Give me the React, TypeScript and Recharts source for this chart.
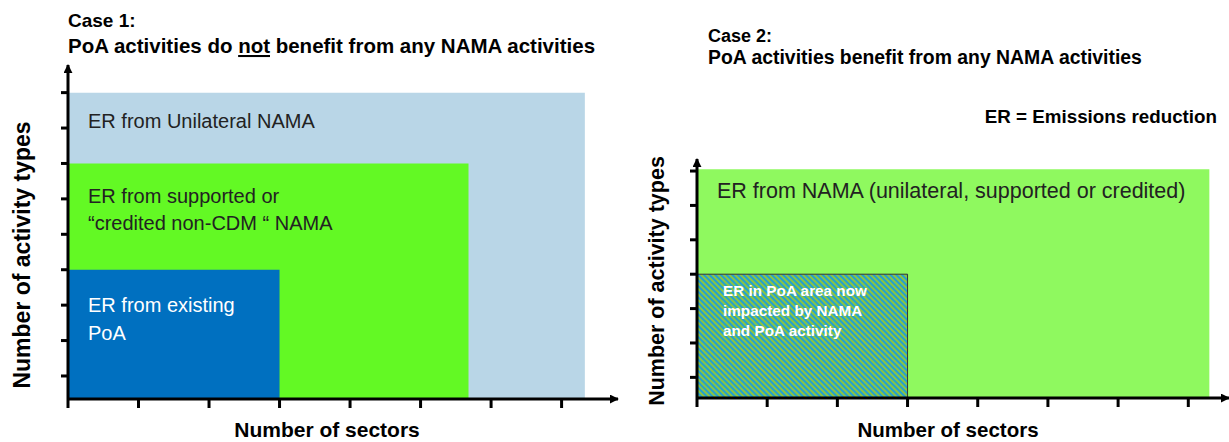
import React from 'react';
import { ComposedChart, XAxis, YAxis, ReferenceArea } from 'recharts';

// Case 1 – nested areas (sectors x activity types)
const caseOneAreas = [
  ['ER from Unilateral NAMA'],
  ['ER from supported or', '\u201Ccredited non-CDM \u201C NAMA'],
  ['ER from existing', 'PoA'],
];
const caseOneSectors = [7.33, 5.68, 3];
const caseOneActivityTypes = [9, 7, 4];

// Case 2
const caseTwoAreas = [
  ['ER from NAMA (unilateral, supported or credited)'],
  ['ER in PoA area now', 'impacted by NAMA', 'and PoA activity'],
];
const caseTwoSectors = [7.3, 3];
const caseTwoActivityTypes = [7.05, 4];

const sectorTicks = [0, 1, 2, 3, 4, 5, 6, 7];
const caseOneTypeTicks = [1, 2, 3, 4, 5, 6, 7, 8, 9];
const caseTwoTypeTicks = [1, 2, 3, 4, 5, 6, 7];

const FONT = '"Liberation Sans", Arial, sans-serif';

const caseOneStyles = [
  { fill: '#B9D6E7', text: '#222', dx: 20, dy: 35, lh: 27, size: 20, weight: 400 },
  { fill: '#63F924', text: '#222', dx: 20, dy: 40, lh: 27, size: 20, weight: 400 },
  { fill: '#0070C0', text: '#fff', dx: 20, dy: 42, lh: 28, size: 20, weight: 400 },
];
const caseTwoStyles = [
  { fill: '#8FF95F', text: '#222', dx: 20, dy: 29, lh: 27, size: 21.5, weight: 400 },
  { fill: 'url(#hatch)', text: '#fff', dx: 26, dy: 22, lh: 20, size: 15.3, weight: 700 },
];

const areaLabel = (lines: string[], s: any) => (props: any) => {
  const { x, y } = props.viewBox;
  return (
    <text x={x + s.dx} y={y + s.dy} fill={s.text} fontSize={s.size} fontWeight={s.weight} fontFamily={FONT}>
      {lines.map((l, i) => (
        <tspan key={i} x={x + s.dx} dy={i === 0 ? 0 : s.lh}>
          {l}
        </tspan>
      ))}
    </text>
  );
};

// tick marks only, no tick text
const noTickText = () => <g />;

const axisStroke = { stroke: '#000', strokeWidth: 3 };

export default function App() {
  return (
    <div style={{ position: 'absolute', left: 0, top: 0, width: 1229, height: 442, background: '#fff', overflow: 'hidden' }}>
      <svg width={0} height={0} style={{ position: 'absolute' }}>
        <defs>
          <pattern id="hatch" width="4" height="4" patternUnits="userSpaceOnUse" patternTransform="rotate(-45)">
            <rect width="4" height="4" fill="#8DC540" />
            <rect width="2" height="4" fill="#22A0D2" />
          </pattern>
          <marker id="arrow" viewBox="0 0 10 10" refX="9" refY="5" markerWidth="9" markerHeight="9" markerUnits="userSpaceOnUse" orient="auto-start-reverse">
            <path d="M0,0 L10,5 L0,10 z" fill="#000" />
          </marker>
        </defs>
      </svg>

      <div style={{ position: 'absolute', left: 0, top: 0 }}>
        <ComposedChart width={630} height={442} data={[]} margin={{ top: 65, right: 12, bottom: 0, left: 0 }}>
          <XAxis
            type="number"
            dataKey="x"
            domain={[0, 7.8]}
            allowDataOverflow
            ticks={sectorTicks}
            tick={noTickText}
            tickSize={9}
            height={43}
            axisLine={{ ...axisStroke, markerEnd: 'url(#arrow)' }}
            tickLine={axisStroke}
          />
          <YAxis
            type="number"
            domain={[0.35, 9.78]}
            allowDataOverflow
            ticks={caseOneTypeTicks}
            tick={noTickText}
            tickSize={7}
            width={68}
            axisLine={{ ...axisStroke, markerStart: 'url(#arrow)' }}
            tickLine={axisStroke}
          />
          {caseOneAreas.map((lines, i) => (
            <ReferenceArea
              key={i}
              x1={0}
              x2={caseOneSectors[i]}
              y1={0.35}
              y2={caseOneActivityTypes[i]}
              fill={caseOneStyles[i].fill}
              fillOpacity={1}
              stroke="none"
              label={areaLabel(lines, caseOneStyles[i])}
            />
          ))}
        </ComposedChart>
      </div>

      <div style={{ position: 'absolute', left: 620, top: 0 }}>
        <ComposedChart width={609} height={442} data={[]} margin={{ top: 159, right: 0, bottom: 0, left: 0 }}>
          <XAxis
            type="number"
            dataKey="x"
            domain={[0, 7.58]}
            allowDataOverflow
            ticks={sectorTicks}
            tick={noTickText}
            tickSize={9}
            height={44}
            axisLine={{ ...axisStroke, markerEnd: 'url(#arrow)' }}
            tickLine={axisStroke}
          />
          <YAxis
            type="number"
            domain={[0.4, 7.35]}
            allowDataOverflow
            ticks={caseTwoTypeTicks}
            tick={noTickText}
            tickSize={7}
            width={77}
            axisLine={{ ...axisStroke, markerStart: 'url(#arrow)' }}
            tickLine={axisStroke}
          />
          {caseTwoAreas.map((lines, i) => (
            <ReferenceArea
              key={i}
              x1={0}
              x2={caseTwoSectors[i]}
              y1={0.4}
              y2={caseTwoActivityTypes[i]}
              fill={caseTwoStyles[i].fill}
              fillOpacity={1}
              stroke={i === 1 ? '#333' : 'none'}
              strokeWidth={1}
              label={areaLabel(lines, caseTwoStyles[i])}
            />
          ))}
        </ComposedChart>
      </div>

      <svg width={1229} height={442} style={{ position: 'absolute', left: 0, top: 0, pointerEvents: 'none' }} fontFamily={FONT} fontWeight={700} fill="#000">
        <text x={68} y={27} fontSize={19}>Case 1:</text>
        <text x={68} y={53} fontSize={20.5}>
          PoA activities do <tspan style={{ textDecoration: 'underline' }}>not</tspan> benefit from any NAMA activities
        </text>
        <text x={708} y={42} fontSize={18}>Case 2:</text>
        <text x={708} y={64} fontSize={19.4}>PoA activities benefit from any NAMA activities</text>
        <text x={1217} y={123} fontSize={18.8} textAnchor="end">ER = Emissions reduction</text>
        <text x={327} y={437} fontSize={21} textAnchor="middle">Number of sectors</text>
        <text x={948} y={437} fontSize={20.5} textAnchor="middle">Number of sectors</text>
        <text x={30} y={255} fontSize={23} textAnchor="middle" transform="rotate(-90 30 255)">Number of activity types</text>
        <text x={664} y={281} fontSize={21.5} textAnchor="middle" transform="rotate(-90 664 281)">Number of activity types</text>
      </svg>
    </div>
  );
}
